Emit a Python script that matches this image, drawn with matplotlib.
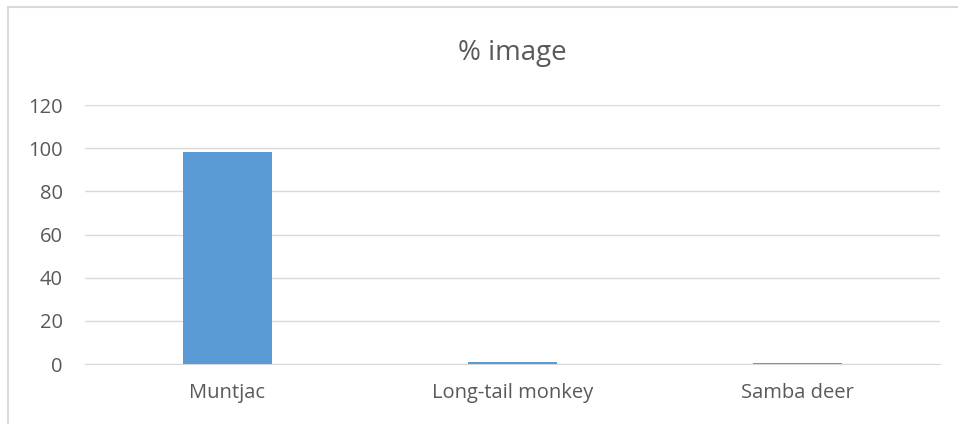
import matplotlib
matplotlib.use('Agg')
import matplotlib.pyplot as plt
from matplotlib.patches import Rectangle

# données
categories = ['Muntjac', 'Long-tail monkey', 'Samba deer']
valeurs = [98, 1, 0.4]
yticks = [0, 20, 40, 60, 80, 100, 120]

plt.rcParams['font.family'] = ['Open Sans', 'DejaVu Sans']

fig = plt.figure(figsize=(9.58, 4.24), dpi=100)
# cadre gris du graphique
fig.patches.append(Rectangle((8/958, -0.1), 1.0, (424-7)/424 + 0.1, transform=fig.transFigure,
                             facecolor='none', edgecolor='#d9d9d9', linewidth=1.5))

ax = fig.add_axes([85/958, (424-364)/424, 855/958, (364-105)/424])
x = range(len(categories))
ax.bar(x, valeurs, width=0.31, color='#5b9bd5', zorder=3)
ax.set_xlim(-0.5, 2.5)
ax.set_ylim(0, 120)
ax.set_yticks(yticks)
ax.set_xticks(list(x))
ax.set_xticklabels(categories)
ax.grid(axis='y', color='#d9d9d9', linewidth=1, zorder=0)
for s in ['top', 'right', 'left']:
    ax.spines[s].set_visible(False)
ax.spines['bottom'].set_color('#d9d9d9')
ax.tick_params(axis='both', length=0, colors='#595959', labelsize=14.5)
ax.tick_params(axis='y', pad=16)
ax.tick_params(axis='x', pad=14)
fig.text(512/958, 1 - 53/424, '% image', ha='center', va='center', fontsize=20, color='#595959')

fig.savefig('out.png', dpi=100)
